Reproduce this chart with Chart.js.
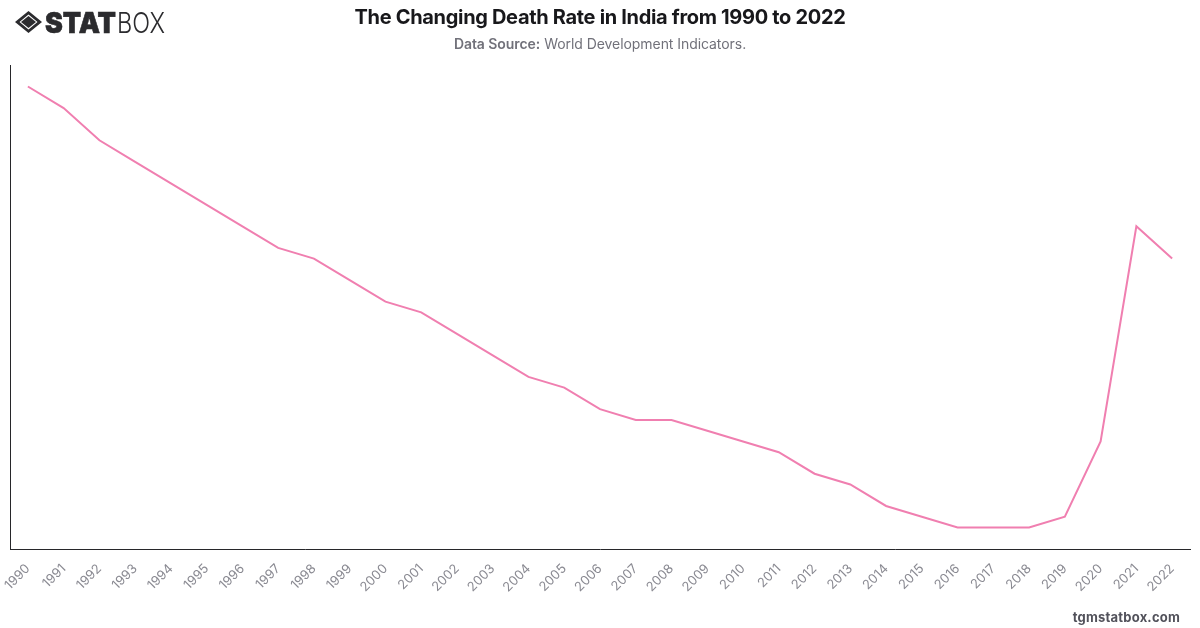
<!DOCTYPE html>
<html>
<head>
<meta charset="utf-8">
<title>The Changing Death Rate in India from 1990 to 2022</title>
<script src="https://cdn.jsdelivr.net/npm/chart.js@4"></script>
<style>
html, body { margin: 0; padding: 0; background: #fff; }
body { width: 1200px; height: 628px; position: relative; overflow: hidden; font-family: Inter, sans-serif; }
#logo { position: absolute; left: 15px; top: 9px; }
#title { position: absolute; left: 0; width: 1200px; top: 5px; text-align: center; font-size: 20px; line-height: 24px; font-weight: 700; color: #18181b; letter-spacing: -0.32px; }
#source { position: absolute; left: 0; width: 1200px; top: 35px; text-align: center; font-size: 14px; line-height: 18px; color: #71717a; letter-spacing: -0.06px; }
#source b { font-weight: 600; }
#site { position: absolute; right: 20px; top: 608px; font-size: 13px; line-height: 18px; font-weight: 700; color: #52525b; letter-spacing: 0.2px; }
#wrap { position: absolute; left: 0; top: 0; width: 1200px; height: 628px; }
</style>
</head>
<body>
<div id="wrap"><canvas id="myChart"></canvas></div>
<svg id="logo" width="155" height="28" viewBox="0 0 155 28">
	<path d="M13.5 2 L27 13 L13.5 24 L0 13 Z M13.5 5.5 L4.5 13 L13.5 20.5 L22.5 13 Z" fill="#2b2b2e" fill-rule="evenodd"/>
	<path d="M13.5 7 L21 13 L13.5 19 L6 13 Z" fill="#2b2b2e"/>
	<text x="30" y="24" font-family="Inter" font-size="29" font-weight="900" fill="#2b2b2e" stroke="#2b2b2e" stroke-width="0.6" textLength="71" lengthAdjust="spacingAndGlyphs">STAT</text>
	<text x="102" y="24" font-family="Inter" font-size="29" font-weight="300" fill="#2b2b2e" textLength="48" lengthAdjust="spacingAndGlyphs">BOX</text>
</svg>
<div id="title">The Changing Death Rate in India from 1990 to 2022</div>
<div id="source"><b>Data Source:</b> World Development Indicators.</div>
<div id="site">tgmstatbox.com</div>
<script>
const years = ["1990","1991","1992","1993","1994","1995","1996","1997","1998","1999","2000","2001","2002","2003","2004","2005","2006","2007","2008","2009","2010","2011","2012","2013","2014","2015","2016","2017","2018","2019","2020","2021","2022"];
const deathRate = [10.6,10.4,10.1,9.9,9.7,9.5,9.3,9.1,9.0,8.8,8.6,8.5,8.3,8.1,7.9,7.8,7.6,7.5,7.5,7.4,7.3,7.2,7.0,6.9,6.7,6.6,6.5,6.5,6.5,6.6,7.3,9.3,9.0];

Chart.defaults.animation = false;

const data = {
	labels: years,
	datasets: [{
		label: 'Death rate',
		data: deathRate,
		borderColor: '#f07fb0',
		borderWidth: 2,
		pointRadius: 0,
		tension: 0,
		fill: false
	}]
};

const config = {
	type: 'line',
	data: data,
	options: {
		responsive: false,
		layout: { padding: { left: 10, right: 10, top: 65, bottom: 0 } },
		plugins: { legend: { display: false }, tooltip: { enabled: false } },
		scales: {
			x: {
				offset: true,
				// fixed strip for the rotated year labels, and no side padding from them
				afterFit(scale) {
					scale.height = 79;
					scale.paddingLeft = 0;
					scale.paddingRight = 0;
				},
				grid: { display: false, drawTicks: false },
				border: { color: '#27272a', width: 1 },
				ticks: { color: '#8a8a92', font: { family: 'Inter', size: 13 }, maxRotation: 45, minRotation: 45, autoSkip: false, padding: 12 }
			},
			y: {
				min: 6.3,
				max: 10.8,
				afterFit(scale) { scale.width = 0; },
				grid: { display: false, drawTicks: false },
				border: { color: '#27272a', width: 1 },
				ticks: { display: false }
			}
		}
	}
};

const canvas = document.getElementById("myChart");
canvas.width = 1200;
canvas.height = 628;
new Chart(canvas.getContext("2d"), config);
</script>
</body>
</html>
